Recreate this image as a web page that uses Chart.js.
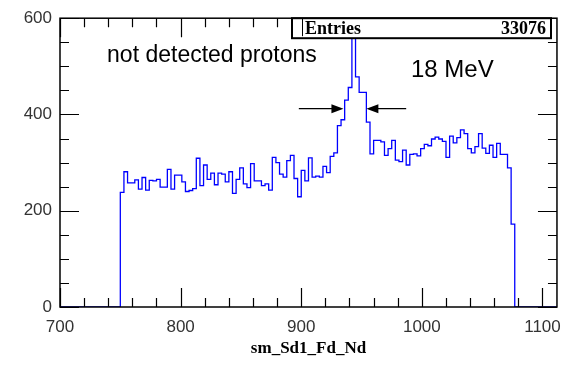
<!DOCTYPE html>
<html><head><meta charset="utf-8">
<script src="https://cdn.jsdelivr.net/npm/chart.js@4.4.0/dist/chart.umd.min.js"></script>
<style>html,body{margin:0;padding:0;background:#fff}canvas{display:block}</style>
</head><body>
<canvas id="c" width="571" height="365"></canvas>
<script>
// ---- data ----
const binStart = 750;
const binWidth = 3;
const counts = [
238,281,258,258,264,245,269,243,263,262,265,249,249,286,245,274,274,260,240,242,
246,309,252,295,265,278,254,278,276,260,281,236,265,289,256,248,298,262,262,252,
256,243,311,300,276,270,304,315,267,229,284,262,310,270,272,270,292,279,313,320,
377,389,430,456,559,478,446,446,384,318,346,346,343,315,329,346,305,302,326,295,
317,318,314,329,338,335,349,353,349,344,311,355,341,352,368,360,329,320,333,360,
330,319,336,311,340,317,317,289,172];
const xTickValues = [700, 800, 900, 1000, 1100];
const yTickValues = [0, 200, 400, 600];
const xTitle = 'sm_Sd1_Fd_Nd';
const entriesLabel = 'Entries';
const entriesValue = '33076';
const noteText = 'not detected protons';
const energyText = '18 MeV';

// histogram outline points: each point is a bin's left edge carrying that bin's value
const pts = [{x: 700, y: 0}];
counts.forEach((c, i) => pts.push({x: binStart + i * binWidth, y: c}));
pts.push({x: binStart + counts.length * binWidth, y: 0});
pts.push({x: 1112, y: 0});

const framePlugin = {
  id: 'frame',
  afterDatasetsDraw(chart) {
    const {ctx, chartArea: a, scales: {x, y}} = chart;
    ctx.save();
    ctx.strokeStyle = '#000';
    ctx.lineWidth = 1.5;
    ctx.strokeRect(a.left, a.top, a.right - a.left, a.bottom - a.top);
    ctx.lineWidth = 1.2;
    ctx.beginPath();
    for (let v = 700; v <= 1112; v += 20) {
      const px = Math.round(x.getPixelForValue(v)) + 0.5;
      const len = v % 100 === 0 ? 19 : 9;
      ctx.moveTo(px, a.bottom); ctx.lineTo(px, a.bottom - len);
      ctx.moveTo(px, a.top); ctx.lineTo(px, a.top + len);
    }
    for (let v = 0; v <= 600; v += 50) {
      const py = Math.round(y.getPixelForValue(v)) + 0.5;
      const len = v % 200 === 0 ? 19 : 9;
      ctx.moveTo(a.left, py); ctx.lineTo(a.left + len, py);
      ctx.moveTo(a.right, py); ctx.lineTo(a.right - len, py);
    }
    ctx.stroke();

    // stats box
    const bx0 = 292, bx1 = 551, by0 = a.top, by1 = a.top + 20;
    ctx.fillStyle = '#fff';
    ctx.fillRect(bx0, by0, bx1 - bx0, by1 - by0);
    ctx.lineWidth = 2;
    ctx.strokeRect(bx0, by0, bx1 - bx0, by1 - by0);
    ctx.lineWidth = 1;
    ctx.beginPath(); ctx.moveTo(302.5, by0); ctx.lineTo(302.5, by1 - 2); ctx.stroke();
    ctx.fillStyle = '#000';
    ctx.font = 'bold 18px "Liberation Serif"';
    ctx.textBaseline = 'middle';
    ctx.textAlign = 'left';
    ctx.fillText(entriesLabel, 305, (by0 + by1) / 2 + 1);
    ctx.textAlign = 'right';
    ctx.fillText(entriesValue, 546, (by0 + by1) / 2 + 1);

    // annotations
    ctx.textAlign = 'left';
    ctx.textBaseline = 'alphabetic';
    ctx.font = '23px "Liberation Sans"';
    ctx.fillText(noteText, x.getPixelForValue(739), y.getPixelForValue(510));
    ctx.font = '24px "Liberation Sans"';
    ctx.fillText(energyText, x.getPixelForValue(991), y.getPixelForValue(477));

    // FWHM arrows
    const ay = y.getPixelForValue(412);
    const arrow = (fromV, toV) => {
      const x0 = x.getPixelForValue(fromV), x1 = x.getPixelForValue(toV);
      const dir = Math.sign(x1 - x0);
      ctx.lineWidth = 1.2;
      ctx.beginPath(); ctx.moveTo(x0, ay); ctx.lineTo(x1 - dir * 8, ay); ctx.stroke();
      ctx.beginPath();
      ctx.moveTo(x1, ay);
      ctx.lineTo(x1 - dir * 12, ay - 4.5);
      ctx.lineTo(x1 - dir * 12, ay + 4.5);
      ctx.closePath(); ctx.fill();
    };
    arrow(898, 935);
    arrow(987, 954);
    ctx.restore();
  }
};

new Chart(document.getElementById('c'), {
  type: 'line',
  data: {datasets: [{data: pts, stepped: 'before', borderColor: '#0000ff', borderWidth: 1.3,
    pointRadius: 0, fill: false, tension: 0}]},
  options: {
    responsive: false, animation: false,
    layout: {padding: {top: 14, right: 8, left: 0, bottom: 0}},
    plugins: {legend: {display: false}, tooltip: {enabled: false}},
    scales: {
      x: {type: 'linear', min: 700, max: 1112,
        afterBuildTicks: s => { s.ticks = xTickValues.map(v => ({value: v})); },
        afterFit: s => { s.height = 58; },
        ticks: {padding: 10, autoSkip: false, maxRotation: 0, color: '#333',
          callback: v => String(v),
          font: {family: 'Liberation Sans', size: 17}},
        grid: {display: false, drawTicks: false}, border: {display: false},
        title: {display: true, text: xTitle, color: '#000', padding: {top: 0, bottom: 6},
          font: {family: 'Liberation Serif', weight: 'bold', size: 17}}
      },
      y: {type: 'linear', min: 0, max: 600,
        afterBuildTicks: s => { s.ticks = yTickValues.map(v => ({value: v})); },
        afterFit: s => { s.width = 60; },
        ticks: {padding: 8, color: '#333', callback: v => String(v),
          font: {family: 'Liberation Sans', size: 17}},
        grid: {display: false, drawTicks: false}, border: {display: false}
      }
    }
  },
  plugins: [framePlugin]
});
</script>
</body></html>
